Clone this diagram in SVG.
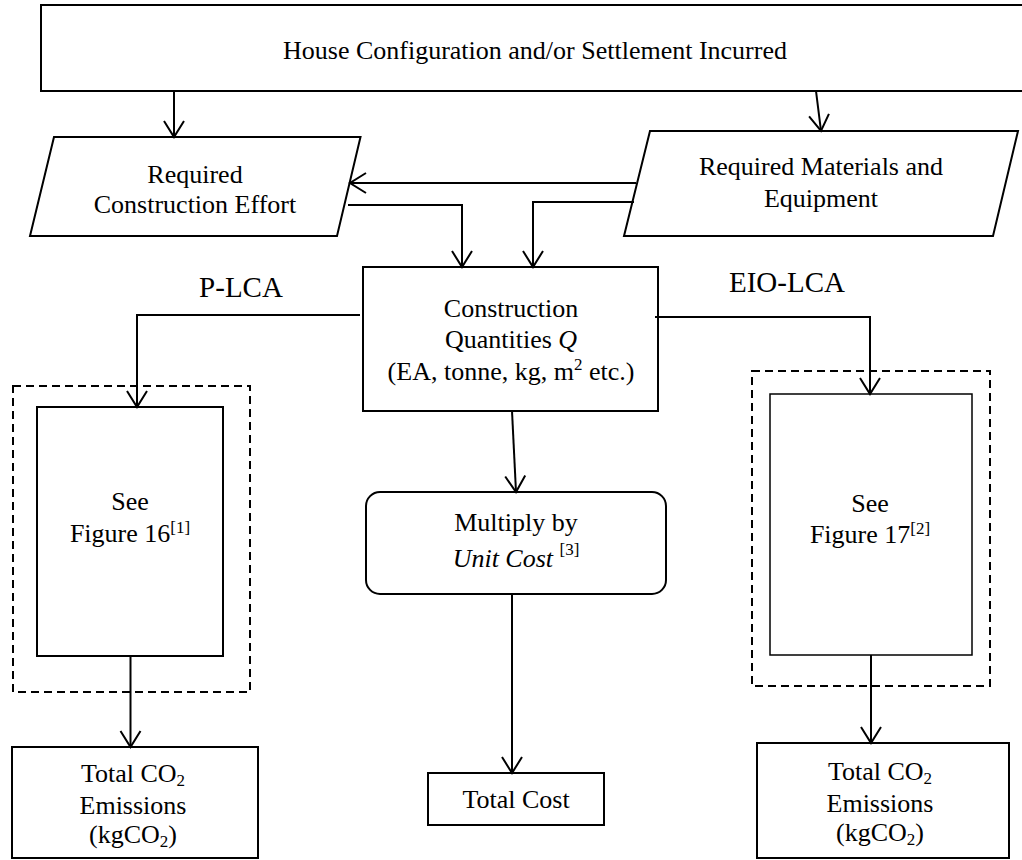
<svg xmlns="http://www.w3.org/2000/svg" width="1022" height="860" viewBox="0 0 1022 860">
<style>
  .box { fill: #fff; stroke: #000; stroke-width: 2; }
  .thin { fill: #fff; stroke: #000; stroke-width: 1.5; }
  .dash { fill: none; stroke: #000; stroke-width: 2; stroke-dasharray: 8 5; }
  .t { font-family: "Liberation Serif", "Times New Roman", serif; font-size: 26px; fill: #000; text-anchor: middle; }
  .big { font-size: 29px; }
  .conn path { fill: none; stroke: #000; stroke-width: 2; marker-end: url(#arr); }
</style>
<defs>
  <marker id="arr" viewBox="-18 -12 20 24" markerWidth="20" markerHeight="24" refX="0" refY="0" orient="auto" markerUnits="userSpaceOnUse">
    <path d="M-16,-10 L0,0 L-16,10" fill="none" stroke="#000" stroke-width="2"/>
  </marker>
</defs>
<rect width="1022" height="860" fill="#fff"/>

<g id="house">
  <rect class="box" x="41" y="5" width="1010" height="86"/>
  <text class="t" x="535" y="59">House Configuration and/or Settlement Incurred</text>
</g>

<g id="effort">
  <polygon class="box" points="54,137 360.5,137 337,236 30,236"/>
  <text class="t" x="195" y="183">Required</text>
  <text class="t" x="195" y="213">Construction Effort</text>
</g>

<g id="materials">
  <polygon class="box" points="650,131 1018,131 993,236 624,236"/>
  <text class="t" x="821" y="175">Required Materials and</text>
  <text class="t" x="821" y="207">Equipment</text>
</g>

<g id="quantities">
  <rect class="box" x="363" y="267" width="295" height="144"/>
  <text class="t" x="511" y="317">Construction</text>
  <text class="t" x="511" y="348">Quantities <tspan font-style="italic">Q</tspan></text>
  <text class="t" x="511" y="380">(EA, tonne, kg, m<tspan font-size="17" dy="-10">2</tspan><tspan dy="10"> etc.)</tspan></text>
</g>

<g id="plca-label">
  <text class="t big" x="241" y="297">P-LCA</text>
</g>
<g id="eiolca-label">
  <text class="t big" x="787" y="292">EIO-LCA</text>
</g>

<g id="fig16">
  <rect class="dash" x="13" y="386" width="237" height="306"/>
  <rect class="box" x="37" y="407" width="186" height="249"/>
  <text class="t" x="130" y="510">See</text>
  <text class="t" x="130" y="542">Figure 16<tspan font-size="17" dy="-9">[1]</tspan></text>
</g>

<g id="fig17">
  <rect class="dash" x="752" y="371" width="238" height="315"/>
  <rect class="thin" x="770" y="394" width="202" height="261"/>
  <text class="t" x="870" y="512">See</text>
  <text class="t" x="870" y="543">Figure 17<tspan font-size="17" dy="-9">[2]</tspan></text>
</g>

<g id="multiply">
  <rect class="box" x="366" y="492" width="300" height="102" rx="14" ry="14"/>
  <text class="t" x="516" y="531">Multiply by</text>
  <text class="t" x="516" y="567"><tspan font-style="italic">Unit Cost</tspan> <tspan font-size="17" dy="-12">[3]</tspan></text>
</g>

<g id="totalcost">
  <rect class="box" x="428" y="773" width="176" height="52"/>
  <text class="t" x="516" y="808">Total Cost</text>
</g>

<g id="co2-left">
  <rect class="box" x="12" y="747" width="246" height="111"/>
  <text class="t" x="133" y="782">Total CO<tspan font-size="17" dy="4">2</tspan></text>
  <text class="t" x="133" y="814">Emissions</text>
  <text class="t" x="133" y="843">(kgCO<tspan font-size="17" dy="4">2</tspan><tspan dy="-4">)</tspan></text>
</g>

<g id="co2-right">
  <rect class="box" x="757" y="743" width="252" height="115"/>
  <text class="t" x="880" y="780">Total CO<tspan font-size="17" dy="4">2</tspan></text>
  <text class="t" x="880" y="812">Emissions</text>
  <text class="t" x="880" y="841">(kgCO<tspan font-size="17" dy="4">2</tspan><tspan dy="-4">)</tspan></text>
</g>

<g id="connectors" class="conn">
  <path d="M174,91 V137"/>
  <path d="M816,91 L821,131"/>
  <path d="M636,183 H350"/>
  <path d="M348,205 H462 V267"/>
  <path d="M634,202 H533 V267"/>
  <path d="M360,315 H137 V407"/>
  <path d="M655,317 H870 V394"/>
  <path d="M512,411 L516,492"/>
  <path d="M512,594 V773"/>
  <path d="M130.5,656 V747"/>
  <path d="M871,655 V743"/>
</g>
</svg>
